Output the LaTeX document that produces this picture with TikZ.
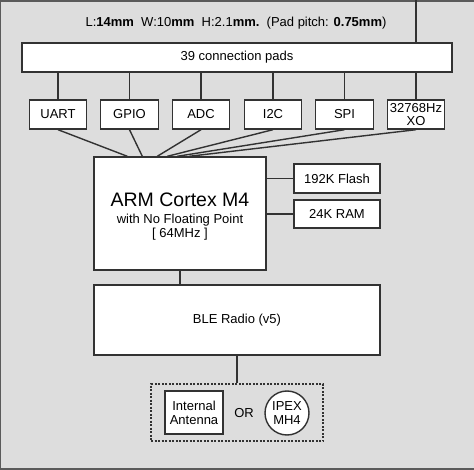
\documentclass[tikz,border=0pt]{standalone}
\usepackage{fontspec}
\setmainfont{Liberation Sans}
\usetikzlibrary{positioning}
\definecolor{bggray}{RGB}{221,221,221}
\definecolor{linegray}{RGB}{50,50,50}
\definecolor{framegray}{RGB}{90,90,90}
\tikzset{
  blk/.style={draw=linegray,fill=white,line width=1.4pt,inner sep=0pt,align=center,
    font=\fontsize{13}{14}\selectfont},
  wire/.style={draw=linegray,line width=1.4pt}
}
\begin{document}
\begin{tikzpicture}[x=1pt,y=-1pt]
	\useasboundingbox (0,0) rectangle (474,470);
	\fill[bggray] (0,0) rectangle (474,470);
	\draw[framegray,line width=2pt] (0,469) -- (0,1) -- (474,1);
	\draw[framegray,line width=2pt] (0,469) -- (474,469);
	% title
	\node (title) at (236,23) [font=\fontsize{13}{14}\selectfont] {L:\textbf{14mm}\ \ W:10\textbf{mm}\ \ H:2.1\textbf{mm.}\ \ (Pad pitch: \textbf{0.75mm})};
	% pads and interfaces
	\node (pads) at (237,57.5) [blk,minimum width=430pt,minimum height=29pt] {39 connection pads};
	\node (uart) at (58,114.5) [blk,minimum width=57.5pt,minimum height=29pt] {UART};
	\node (gpio) at (129.5,114.5) [blk,minimum width=57.5pt,minimum height=29pt] {GPIO};
	\node (adc) at (201,114.5) [blk,minimum width=57.5pt,minimum height=29pt] {ADC};
	\node (itc) at (273,114.5) [blk,minimum width=57.5pt,minimum height=29pt] {I2C};
	\node (spi) at (344.5,114.5) [blk,minimum width=57.5pt,minimum height=29pt] {SPI};
	\node (xo) at (416,114.5) [blk,minimum width=57.5pt,minimum height=29pt,font=\fontsize{13}{13}\selectfont] {32768Hz\\XO};
	% core and memory
	\node (arm) at (180,213.5) [blk,minimum width=172pt,minimum height=113pt,
		label={[align=center,font=\fontsize{13}{14}\selectfont,yshift=-3.5pt]center:{\fontsize{19.5}{20}\selectfont ARM Cortex M4}\\[3pt]with No Floating Point\\{}[ 64MHz ]}] {};
	\node (flash) at (337,178.5) [blk,minimum width=86pt,minimum height=29pt] {192K Flash};
	\node (ram) at (337,214) [blk,minimum width=86pt,minimum height=28pt] {24K RAM};
	\node (ble) at (237,320) [blk,minimum width=286pt,minimum height=70pt] {BLE Radio (v5)};
	% antenna choice
	\node (grp) at (237,412.5) [draw=linegray,line width=1.2pt,dash pattern=on 2pt off 1.5pt,minimum width=172pt,minimum height=57pt] {};
	\node (ant) at (194,412.5) [blk,minimum width=58pt,minimum height=43pt] {Internal\\Antenna};
	\node (or) at (244,413) [font=\fontsize{13}{14}\selectfont] {OR};
	\node (ipex) at (287,413) [blk,circle,minimum size=44pt] {IPEX\\MH4};
	% connectors
	\coordinate (ext) at (416,0);
	\draw[wire] (ext) -- (ext |- pads.north);
	\foreach \n in {uart,gpio,adc,itc,spi,xo}
		\draw[wire] (\n.north) -- (\n.north |- pads.south);
	\foreach \n/\dx in {uart/34,gpio/49,adc/64,itc/74,spi/84,xo/96}
		\draw[wire] (\n.south) -- ([xshift=\dx pt]arm.north west);
	\draw[wire] (flash.west) -- (flash.west -| arm.east);
	\draw[wire] (ram.west) -- (ram.west -| arm.east);
	\draw[wire] (arm.south) -- (arm.south |- ble.north);
	\draw[wire] (ble.south) -- (ble.south |- grp.north);
\end{tikzpicture}
\end{document}
